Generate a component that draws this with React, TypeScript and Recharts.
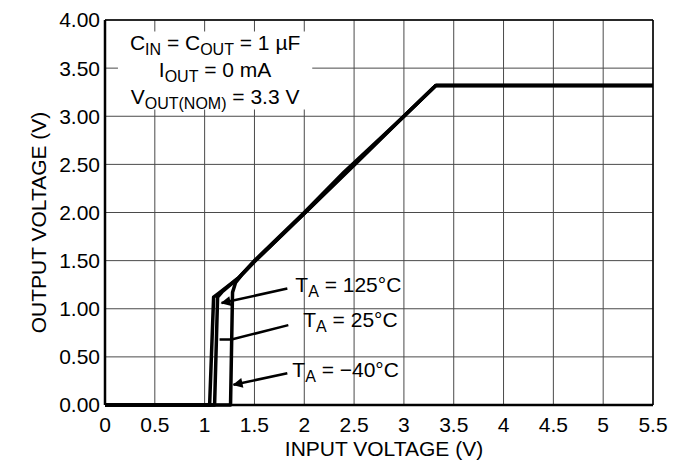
import React from 'react';
import {
  LineChart, Line, XAxis, YAxis, CartesianGrid, ReferenceLine, ReferenceArea, ReferenceDot
} from 'recharts';

// input voltage (V) -> output voltage (V), one curve per ambient temperature
const T125_CURVE = [
  { x: 0, y: 0 }, { x: 1.05, y: 0 }, { x: 1.09, y: 1.12 }, { x: 1.14, y: 1.16 },
  { x: 1.34, y: 1.32 }, { x: 1.5, y: 1.49 }, { x: 2, y: 1.99 }, { x: 2.5, y: 2.49 },
  { x: 3, y: 3.0 }, { x: 3.32, y: 3.32 }, { x: 5.5, y: 3.32 },
];
const T25_CURVE = [
  { x: 0, y: 0 }, { x: 1.1, y: 0 }, { x: 1.13, y: 1.12 }, { x: 1.18, y: 1.18 },
  { x: 1.34, y: 1.32 }, { x: 1.5, y: 1.5 }, { x: 2, y: 2.0 }, { x: 2.4, y: 2.42 },
  { x: 3, y: 3.0 }, { x: 3.32, y: 3.32 }, { x: 5.5, y: 3.32 },
];
const TM40_CURVE = [
  { x: 0, y: 0 }, { x: 1.26, y: 0 }, { x: 1.28, y: 1.17 }, { x: 1.31, y: 1.27 },
  { x: 1.37, y: 1.35 }, { x: 1.5, y: 1.49 }, { x: 2, y: 1.99 }, { x: 2.5, y: 2.5 },
  { x: 3, y: 3.0 }, { x: 3.32, y: 3.32 }, { x: 5.5, y: 3.32 },
];

// callout leader lines
const ARROW_125 = [{ x: 1.83, y: 1.21 }, { x: 1.17, y: 1.06 }];
const LEADER_25 = [{ x: 1.84, y: 0.83 }, { x: 1.27, y: 0.68 }, { x: 1.15, y: 0.68 }];
const ARROW_M40 = [{ x: 1.83, y: 0.33 }, { x: 1.29, y: 0.21 }];

const X_TICKS = [0, 0.5, 1, 1.5, 2, 2.5, 3, 3.5, 4, 4.5, 5, 5.5];
const Y_TICKS = [0, 0.5, 1, 1.5, 2, 2.5, 3, 3.5, 4];

const TEMP_LABELS = [
  { x: 1.91, y: 1.17, temp: '125°C' },
  { x: 1.99, y: 0.81, temp: '25°C' },
  { x: 1.88, y: 0.29, temp: '−40°C' },
];

const FONT = '"Liberation Sans", Arial, Helvetica, sans-serif';
const FS = 21;
const SUB = 16;

const tempLabel = (temp: string) => (props: any) => {
  const { viewBox } = props;
  return (
    <text x={viewBox.x} y={viewBox.y} fontFamily={FONT} fontSize={FS} fill="#000">
      T<tspan fontSize={SUB} dy={5}>A</tspan><tspan dy={-5}>{` = ${temp}`}</tspan>
    </text>
  );
};

const conditionsLabel = (props: any) => {
  const { viewBox } = props;
  const cx = viewBox.x + viewBox.width / 2;
  const top = viewBox.y;
  return (
    <g fontFamily={FONT} fontSize={FS} fill="#000">
      <text x={cx} y={top + 18} textAnchor="middle">
        C<tspan fontSize={SUB} dy={5}>IN</tspan><tspan dy={-5}> = C</tspan>
        <tspan fontSize={SUB} dy={5}>OUT</tspan><tspan dy={-5}> = 1 µF</tspan>
      </text>
      <text x={cx} y={top + 45} textAnchor="middle">
        I<tspan fontSize={SUB} dy={5}>OUT</tspan><tspan dy={-5}> = 0 mA</tspan>
      </text>
      <text x={cx} y={top + 72} textAnchor="middle">
        V<tspan fontSize={SUB} dy={5}>OUT(NOM)</tspan><tspan dy={-5}> = 3.3 V</tspan>
      </text>
    </g>
  );
};

export default function App() {
  return (
    <div style={{ position: 'absolute', left: 0, top: 0, background: '#fff' }}>
      <LineChart width={677} height={466} margin={{ top: 20, right: 24, bottom: 0, left: 0 }}>
        <defs>
          <marker id="arrowHead" viewBox="0 0 10 10" refX="9" refY="5"
            markerWidth="15" markerHeight="10" markerUnits="userSpaceOnUse" orient="auto">
            <path d="M0,0 L10,5 L0,10 z" fill="#000" />
          </marker>
        </defs>
        <CartesianGrid stroke="#4a4a4a" strokeWidth={1} />
        <XAxis
          type="number" dataKey="x" domain={[0, 5.5]} ticks={X_TICKS} height={61}
          tickLine={false} tickSize={0} tickMargin={12}
          axisLine={{ stroke: '#000', strokeWidth: 2.5 }}
          tick={{ fill: '#000', fontSize: FS, fontFamily: FONT }}
          tickFormatter={(v: number) => String(v)}
          label={{
            content: (p: any) => (
              <text x={p.viewBox.x + p.viewBox.width / 2 + 5} y={p.viewBox.y + 51}
                textAnchor="middle" fontFamily={FONT} fontSize={FS} fill="#000">
                INPUT VOLTAGE (V)
              </text>
            ),
          }}
        />
        <YAxis
          type="number" domain={[0, 4]} ticks={Y_TICKS} width={105}
          tickLine={false} tickSize={0} tickMargin={5}
          axisLine={{ stroke: '#000', strokeWidth: 2.5 }}
          tick={{ fill: '#000', fontSize: FS, fontFamily: FONT }}
          tickFormatter={(v: number) => v.toFixed(2)}
          label={{
            content: (p: any) => {
              const cx = 38;
              const cy = p.viewBox.y + p.viewBox.height / 2 + 10;
              return (
                <text x={cx} y={cy} transform={`rotate(-90 ${cx} ${cy})`} textAnchor="middle"
                  dominantBaseline="central" fontFamily={FONT} fontSize={FS} fill="#000">
                  OUTPUT VOLTAGE (V)
                </text>
              );
            },
          }}
        />
        <ReferenceLine y={4} stroke="#000" strokeWidth={1.5} />
        <ReferenceLine x={5.5} stroke="#000" strokeWidth={1.5} />
        <ReferenceArea x1={0.13} x2={2.08} y1={3.07} y2={3.88} fill="#fff" fillOpacity={1}
          stroke="none" label={{ content: conditionsLabel }} />

        <Line data={T125_CURVE} dataKey="y" type="linear" stroke="#000" strokeWidth={3.5}
          dot={false} isAnimationActive={false} strokeLinejoin="round" />
        <Line data={T25_CURVE} dataKey="y" type="linear" stroke="#000" strokeWidth={3.5}
          dot={false} isAnimationActive={false} strokeLinejoin="round" />
        <Line data={TM40_CURVE} dataKey="y" type="linear" stroke="#000" strokeWidth={3.5}
          dot={false} isAnimationActive={false} strokeLinejoin="round" />

        <Line data={ARROW_125} dataKey="y" type="linear" stroke="#000" strokeWidth={2.5}
          dot={false} isAnimationActive={false} markerEnd="url(#arrowHead)" />
        <Line data={LEADER_25} dataKey="y" type="linear" stroke="#000" strokeWidth={2.5}
          dot={false} isAnimationActive={false} />
        <Line data={ARROW_M40} dataKey="y" type="linear" stroke="#000" strokeWidth={2.5}
          dot={false} isAnimationActive={false} markerEnd="url(#arrowHead)" />

        {TEMP_LABELS.map(l => (
          <ReferenceDot key={l.temp} x={l.x} y={l.y} r={0} fill="none" stroke="none"
            label={{ content: tempLabel(l.temp) }} />
        ))}
      </LineChart>
    </div>
  );
}
